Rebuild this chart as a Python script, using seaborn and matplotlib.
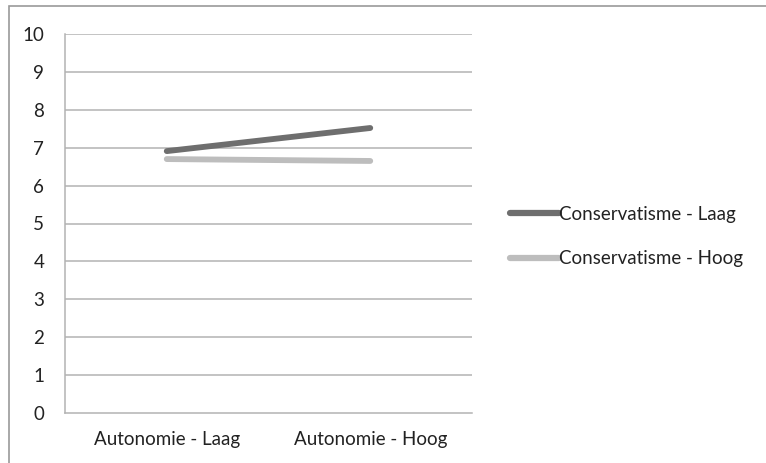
import pandas as pd
import numpy as np
import matplotlib
matplotlib.use("Agg")
import matplotlib.pyplot as plt
import seaborn as sns
from matplotlib.patches import Rectangle

# data
categories = ["Autonomie - Laag", "Autonomie - Hoog"]
laag_values = [6.91, 7.52]
hoog_values = [6.70, 6.65]
series_names = ["Conservatisme - Laag", "Conservatisme - Hoog"]
y_ticks = list(range(0, 11))

df = pd.DataFrame({
    "x": list(range(len(categories))) * 2,
    "value": laag_values + hoog_values,
    "serie": [series_names[0]] * 2 + [series_names[1]] * 2,
})

sns.set_style("white")
plt.rcParams["font.family"] = ["Lato", "DejaVu Sans"]
fs = 13.5

fig = plt.figure(figsize=(7.66, 4.63), dpi=100)
ax = fig.add_axes([65 / 766, 1 - 413 / 463, (472 - 65) / 766, (413 - 34) / 463])

# outer chart frame
fig.patches.append(Rectangle((9 / 766, -0.05), 1.2, 1 - 6 / 463 + 0.05,
                             transform=fig.transFigure, fill=False,
                             edgecolor="#9a9a9a", linewidth=1.2))

grid_col = "#b3b3b3"
for y in y_ticks[1:]:
    ax.axhline(y, color=grid_col, linewidth=1.1, zorder=0)

sns.lineplot(data=df, x="x", y="value", hue="serie",
             palette=["#6e6e6e", "#bdbdbd"], linewidth=4.2, ax=ax,
             legend=True, zorder=3)
for line in ax.get_lines():
    line.set_solid_capstyle("round")

ax.set_xlim(-0.5, 1.5)
ax.set_ylim(0, 10)
ax.set_yticks(y_ticks)
ax.set_xticks([-0.5, 0.5, 1.5], minor=False)
ax.set_xticklabels([])
ax.set_xticks([0, 1], minor=True)
ax.set_xticklabels(categories, minor=True)
ax.tick_params(axis="x", which="minor", length=0, pad=13, labelsize=fs, labelcolor="#222222")
ax.tick_params(axis="x", which="major", length=6, width=1.1, color=grid_col, direction="out")
ax.tick_params(axis="y", length=7, width=1.1, color=grid_col, direction="out",
               pad=8, labelsize=fs, labelcolor="#222222")
ax.set_xlabel("")
ax.set_ylabel("")

for side in ["top", "right"]:
    ax.spines[side].set_visible(False)
for side in ["left", "bottom"]:
    ax.spines[side].set_color(grid_col)
    ax.spines[side].set_linewidth(1.1)

leg = ax.legend(loc="upper left", bbox_to_anchor=(510 / 766, 1 - 206 / 463),
                bbox_transform=fig.transFigure, frameon=False, fontsize=fs,
                handlelength=2.6, handletextpad=0.0, labelspacing=1.45,
                borderpad=0, borderaxespad=0)
for h in leg.get_lines():
    h.set_linewidth(4.5)
    h.set_solid_capstyle("round")
for t in leg.get_texts():
    t.set_color("#222222")

fig.savefig("out.png", dpi=100)
